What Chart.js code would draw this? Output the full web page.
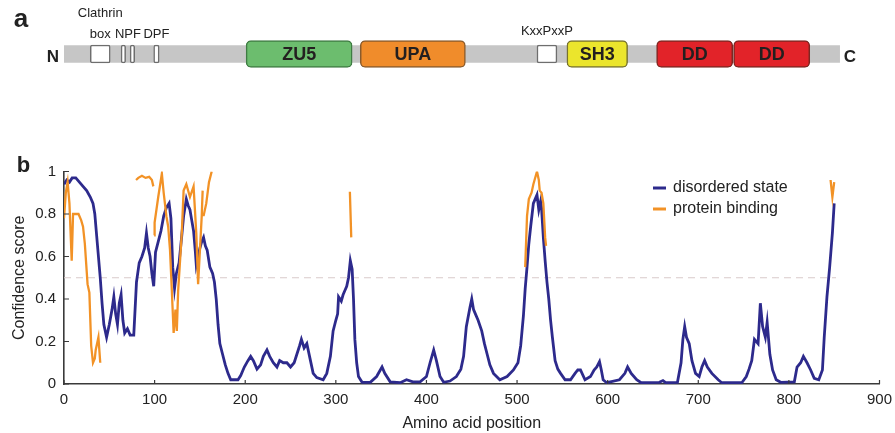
<!DOCTYPE html>
<html>
<head>
<meta charset="utf-8">
<script src="https://cdn.jsdelivr.net/npm/chart.js"></script>
<style>
  html, body { margin: 0; padding: 0; background: #fff; }
  #wrap { position: relative; width: 895px; height: 433px; }
  #wrap canvas { position: absolute; left: 0; top: 0; }
</style>
</head>
<body>
<div id="wrap">
  <canvas id="scoreChart" width="895" height="433"></canvas>
  <canvas id="domainChart" width="895" height="100"></canvas>
</div>
<script>
// ---- panel a: protein architecture (residue ranges) ----
const proteinLength = 856;
const domainNames = ['ZU5', 'UPA', 'SH3', 'DD', 'DD'];
const domainStarts = [201, 327, 555, 654, 739];
const domainEnds = [318, 443, 622, 738, 823];
const motifStarts = [29, 63, 73, 99, 522];
const motifEnds = [51, 68, 78, 105, 544];
const motifLabels = [['Clathrin', 'box'], ['NPF'], ['DPF'], ['KxxPxxP']];
const motifLabelAt = [40, 70.5, 102, 533];

// ---- panel b: per-residue scores ----
const disorderPos = [
  0, 3, 6, 9, 13, 17, 21, 25, 29, 32, 34, 36, 38, 40, 42, 44, 47, 50, 53, 55,
  57, 59, 61, 63, 65, 67, 70, 73, 77, 80, 83, 86, 89, 91, 93, 95, 97, 99, 101, 104,
  107, 110, 113, 116, 118, 120, 122, 124, 127, 130, 132, 135, 137, 139, 141, 143, 145, 146, 148, 150,
  152, 154, 156, 158, 161, 164, 166, 168, 170, 172, 175, 178, 181, 184, 188, 192, 195, 199, 203, 206,
  209, 213, 217, 220, 224, 227, 231, 235, 238, 242, 246, 250, 254, 257, 260, 262, 265, 268, 271, 275,
  279, 286, 290, 294, 297, 300, 302, 303, 306, 308, 310, 312, 314, 316, 318, 319.5, 321, 323, 325, 329,
  338, 345, 351, 354, 360, 371, 378, 385, 393, 400, 404, 408, 411, 415, 419, 426, 433, 438, 441, 444,
  448, 450, 452, 454, 457, 461, 464, 467, 470, 474, 481, 489, 496, 501, 504, 507, 509, 511, 513, 515,
  518, 520, 522, 524, 526, 527, 529, 531, 533, 535, 537, 539, 542, 545, 548, 553, 559, 564, 567, 570,
  575, 581, 585, 588, 591, 593, 595, 599, 613, 619, 622, 626, 632, 637, 657, 661, 664, 677, 681, 683,
  685, 687, 690, 693, 697, 701, 704, 707, 710, 715, 722, 726, 748, 753, 756, 759, 762, 766, 768.5, 771,
  774, 776, 779, 782, 786, 791, 806, 809, 813, 816, 820, 824, 828, 833, 837, 839, 842, 845, 848, 850
];
const disorderScore = [
  0.94, 0.96, 0.95, 0.97, 0.97, 0.95, 0.93, 0.91, 0.88, 0.85, 0.80, 0.70, 0.60, 0.50, 0.38, 0.28, 0.22, 0.28, 0.35, 0.41,
  0.33, 0.28, 0.38, 0.42, 0.30, 0.24, 0.26, 0.23, 0.23, 0.48, 0.57, 0.60, 0.64, 0.71, 0.64, 0.60, 0.52, 0.46, 0.62, 0.67,
  0.72, 0.79, 0.83, 0.85, 0.78, 0.55, 0.45, 0.52, 0.57, 0.70, 0.79, 0.87, 0.84, 0.82, 0.77, 0.72, 0.62, 0.56, 0.60, 0.64,
  0.67, 0.69, 0.65, 0.63, 0.55, 0.52, 0.48, 0.40, 0.28, 0.19, 0.14, 0.09, 0.05, 0.02, 0.02, 0.02, 0.04, 0.08, 0.11, 0.13,
  0.11, 0.07, 0.09, 0.13, 0.16, 0.13, 0.10, 0.08, 0.11, 0.10, 0.10, 0.08, 0.10, 0.14, 0.18, 0.21, 0.17, 0.19, 0.13, 0.05,
  0.03, 0.02, 0.05, 0.13, 0.25, 0.30, 0.33, 0.41, 0.39, 0.42, 0.44, 0.46, 0.50, 0.58, 0.54, 0.40, 0.21, 0.10, 0.035, 0.008,
  0.008, 0.035, 0.08, 0.05, 0.01, 0.006, 0.02, 0.01, 0.01, 0.035, 0.10, 0.16, 0.11, 0.035, 0.008, 0.014, 0.035, 0.07, 0.13, 0.27,
  0.36, 0.40, 0.35, 0.33, 0.30, 0.25, 0.19, 0.14, 0.09, 0.05, 0.02, 0.035, 0.066, 0.10, 0.18, 0.32, 0.45, 0.55, 0.66, 0.74,
  0.85, 0.87, 0.89, 0.82, 0.86, 0.83, 0.69, 0.58, 0.48, 0.40, 0.30, 0.22, 0.11, 0.07, 0.05, 0.02, 0.02, 0.05, 0.066, 0.066,
  0.02, 0.035, 0.066, 0.08, 0.105, 0.066, 0.02, 0.006, 0.02, 0.05, 0.08, 0.05, 0.02, 0.006, 0.008, 0.016, 0.006, 0.008, 0.10, 0.21,
  0.27, 0.22, 0.19, 0.11, 0.05, 0.035, 0.08, 0.11, 0.08, 0.05, 0.02, 0.006, 0.006, 0.035, 0.07, 0.11, 0.21, 0.19, 0.38, 0.27,
  0.22, 0.29, 0.14, 0.066, 0.02, 0.008, 0.01, 0.08, 0.10, 0.13, 0.10, 0.066, 0.027, 0.02, 0.066, 0.22, 0.41, 0.55, 0.71, 0.85
];
// null = no prediction (line break)
const bindingPos = [
  0, 2, 4, 6, 8.5, 10, 13, 16, 19, 21, 23, 26, 28, 30, 32, 34, 35, 37, 38, 40, 41,
  79.5, 82, 86, 90, 94, 97, 98.6, 99.2,
  99.5, 100, 104, 108, 110, 113, 115, 117, 119, 121, 123, 124.5, 126, 130, 132, 135, 139, 143, 146, 148, 150, 152, 153, 153.5,
  154, 157, 160, 163, 164,
  315.5, 317, 318,
  509, 511, 513, 516, 518, 522, 524, 525, 527, 529, 531, 532, 533,
  846, 848, 850
];
const bindingScore = [
  0.78, 0.90, 0.95, 0.85, 0.58, 0.80, 0.80, 0.80, 0.77, 0.74, 0.66, 0.47, 0.43, 0.18, 0.10, 0.12, 0.16, 0.20, 0.22, 0.10, null,
  0.96, 0.97, 0.98, 0.97, 0.975, 0.96, 0.93, null,
  0.70, 0.76, 0.88, 0.99, 0.90, 0.79, 0.74, 0.63, 0.44, 0.24, 0.35, 0.25, 0.44, 0.71, 0.91, 0.94, 0.88, 0.93, 0.71, 0.47, 0.63, 0.79, 0.91, null,
  0.79, 0.85, 0.95, 1.0, null,
  0.905, 0.69, null,
  0.55, 0.79, 0.87, 0.90, 0.94, 1.0, 0.96, 0.91, 0.90, 0.85, 0.69, 0.65, null,
  0.96, 0.88, 0.95
];
const threshold = 0.5;
const xTicks = [0, 100, 200, 300, 400, 500, 600, 700, 800, 900];
const yTicks = [0, 0.2, 0.4, 0.6, 0.8, 1];

const NAVY = '#2d2a8c';
const ORANGE = '#f29226';
const AXIS = '#3a3a3a';
const TEXT = '#222';
const FONT = '"Liberation Sans", Arial, Helvetica, sans-serif';

function toPoints(xs, ys) {
  return xs.map((x, i) => ({ x: x, y: ys[i] }));
}

// ---------- panel b ----------
const innerTicks = {
  id: 'innerTicks',
  afterDraw(chart) {
    const { ctx, chartArea, scales: { x, y } } = chart;
    ctx.save();
    ctx.strokeStyle = AXIS;
    ctx.lineWidth = 1.2;
    ctx.beginPath();
    xTicks.forEach(v => {
      const px = x.getPixelForValue(v);
      ctx.moveTo(px, chartArea.bottom);
      ctx.lineTo(px, chartArea.bottom - 4);
    });
    yTicks.forEach(v => {
      const py = y.getPixelForValue(v);
      ctx.moveTo(chartArea.left, py);
      ctx.lineTo(chartArea.left + 5, py);
    });
    ctx.stroke();
    ctx.restore();
  }
};

const scoreLegend = {
  id: 'scoreLegend',
  afterDraw(chart) {
    const { ctx, chartArea } = chart;
    const items = [chart.data.datasets[1], chart.data.datasets[0]];
    ctx.save();
    ctx.font = '16px ' + FONT;
    ctx.textBaseline = 'middle';
    ctx.textAlign = 'left';
    items.forEach((ds, i) => {
      const yy = chartArea.top + 16.5 + i * 21;
      const x0 = chartArea.left + 589;
      ctx.strokeStyle = ds.borderColor;
      ctx.lineWidth = 3;
      ctx.beginPath();
      ctx.moveTo(x0, yy);
      ctx.lineTo(x0 + 13, yy);
      ctx.stroke();
      ctx.fillStyle = TEXT;
      ctx.fillText(ds.label, x0 + 20, yy);
    });
    ctx.font = 'bold 22px ' + FONT;
    ctx.textAlign = 'center';
    ctx.textBaseline = 'alphabetic';
    ctx.fillText('b', 23.5, 172);
    ctx.restore();
  }
};

new Chart(document.getElementById('scoreChart'), {
  type: 'line',
  data: {
    datasets: [
      {
        label: 'protein binding',
        data: toPoints(bindingPos, bindingScore),
        borderColor: ORANGE,
        borderWidth: 2.3,
        pointRadius: 0,
        tension: 0,
        spanGaps: false,
        order: 0
      },
      {
        label: 'disordered state',
        data: toPoints(disorderPos, disorderScore),
        borderColor: NAVY,
        borderWidth: 2.8,
        pointRadius: 0,
        tension: 0,
        order: 1
      },
      {
        label: 'threshold',
        data: [{ x: 0, y: threshold }, { x: proteinLength - 4, y: threshold }],
        borderColor: '#d9caca',
        borderWidth: 1.2,
        borderDash: [7, 5],
        pointRadius: 0,
        order: 2
      }
    ]
  },
  options: {
    responsive: false,
    animation: false,
    events: [],
    layout: { padding: { top: 171.5, right: 15.5, left: 0, bottom: 0 } },
    plugins: { legend: { display: false }, tooltip: { enabled: false } },
    scales: {
      x: {
        type: 'linear',
        min: 0,
        max: 900,
        afterBuildTicks: s => { s.ticks = xTicks.map(v => ({ value: v })); },
        afterFit: s => { s.height = 49; s.paddingLeft = 0; s.paddingRight = 0; },
        grid: { display: false, drawTicks: false },
        border: { color: AXIS, width: 1.6 },
        ticks: { padding: 7, color: TEXT, font: { family: FONT, size: 15 }, maxRotation: 0 },
        title: { display: true, text: 'Amino acid position', color: TEXT, padding: 0, font: { family: FONT, size: 16 } }
      },
      y: {
        type: 'linear',
        min: 0,
        max: 1,
        afterBuildTicks: s => { s.ticks = yTicks.map(v => ({ value: v })); },
        afterFit: s => { s.width = 64; s.paddingTop = 0; s.paddingBottom = 0; },
        grid: { display: false, drawTicks: false },
        border: { color: AXIS, width: 1.6 },
        ticks: { padding: 8, color: TEXT, font: { family: FONT, size: 15 }, callback: v => String(+v.toFixed(1)) },
        title: { display: true, text: 'Confidence score', color: TEXT, padding: { top: 10, bottom: 0 }, font: { family: FONT, size: 16 } }
      }
    }
  },
  plugins: [innerTicks, scoreLegend]
});

// ---------- panel a ----------
const domainText = {
  id: 'domainText',
  afterDatasetsDraw(chart) {
    const { ctx, chartArea, scales: { x } } = chart;
    const cy = (chartArea.top + chartArea.bottom) / 2;
    ctx.save();
    ctx.fillStyle = '#231f1f';
    ctx.textAlign = 'center';
    ctx.textBaseline = 'middle';
    ctx.font = 'bold 18px ' + FONT;
    domainNames.forEach((name, i) => {
      ctx.fillText(name, x.getPixelForValue((domainStarts[i] + domainEnds[i]) / 2), cy + 1);
    });
    ctx.font = '13px ' + FONT;
    ctx.fillStyle = TEXT;
    motifLabels.forEach((lines, i) => {
      const px = x.getPixelForValue(motifLabelAt[i]);
      const base = i === 3 ? 31 : 34;
      lines.forEach((t, j) => {
        ctx.fillText(t, px, base - (lines.length - 1 - j) * 21);
      });
    });
    ctx.font = 'bold 17px ' + FONT;
    ctx.textAlign = 'right';
    ctx.fillText('N', x.getPixelForValue(0) - 5, cy + 3);
    ctx.textAlign = 'left';
    ctx.fillText('C', x.getPixelForValue(proteinLength) + 4, cy + 3);
    ctx.font = 'bold 26px ' + FONT;
    ctx.textAlign = 'center';
    ctx.textBaseline = 'alphabetic';
    ctx.fillText('a', 21, 27);
    ctx.restore();
  }
};

new Chart(document.getElementById('domainChart'), {
  type: 'bar',
  data: {
    labels: ['protein'],
    datasets: [
      {
        data: [{ x: [0, proteinLength], y: 'protein' }],
        backgroundColor: '#c6c6c6',
        barThickness: 17,
        order: 3
      },
      {
        data: domainStarts.map((s, i) => ({ x: [s, domainEnds[i]], y: 'protein' })),
        backgroundColor: ['#6cbd6e', '#f08c2b', '#ebe52c', '#e22329', '#e22329'],
        borderColor: ['#3f7c43', '#8a5b2c', '#77722e', '#7d2722', '#7d2722'],
        borderWidth: 1.5,
        borderRadius: 5,
        borderSkipped: false,
        barThickness: 27,
        order: 1
      },
      {
        data: motifStarts.map((s, i) => ({ x: [s, motifEnds[i]], y: 'protein' })),
        backgroundColor: '#ffffff',
        borderColor: '#6e6e6e',
        borderWidth: 1.5,
        borderRadius: 2,
        borderSkipped: false,
        barThickness: 18,
        order: 2
      }
    ]
  },
  options: {
    indexAxis: 'y',
    responsive: false,
    animation: false,
    events: [],
    datasets: { bar: { grouped: false } },
    layout: { padding: { top: 8, left: 64, right: 15.5, bottom: 0 } },
    scales: {
      x: { type: 'linear', min: 0, max: 900, display: false },
      y: { display: false }
    },
    plugins: { legend: { display: false }, tooltip: { enabled: false } }
  },
  plugins: [domainText]
});
</script>
</body>
</html>
